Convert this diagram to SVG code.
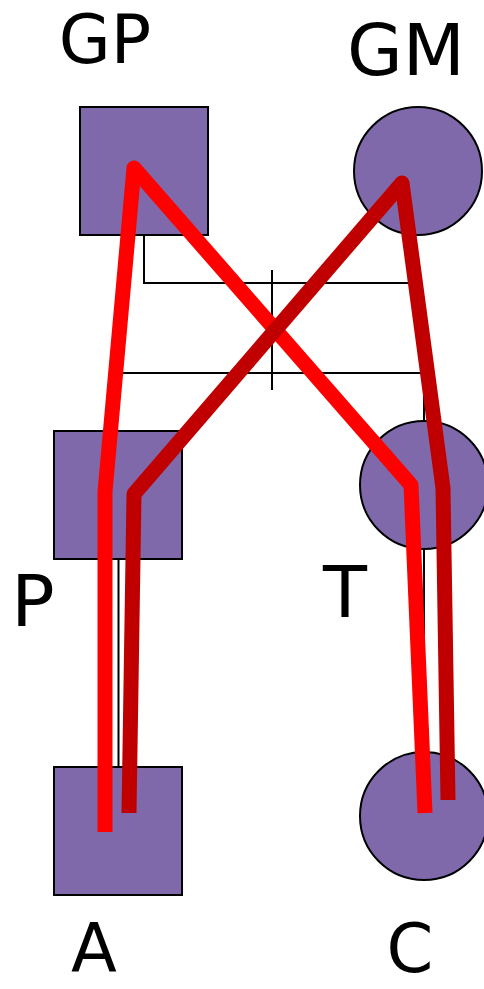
<svg xmlns="http://www.w3.org/2000/svg" width="484" height="989" viewBox="0 0 484 989">
<style>
.node{fill:#8069AB;stroke:#000;stroke-width:2}
.rel{fill:none;stroke:#000;stroke-width:2}
.lab{font-family:"DejaVu Sans",sans-serif;font-size:72px;fill:#000;text-anchor:middle}
.edge{font-size:67px}
.red{fill:none;stroke:#FF0000;stroke-width:15;stroke-linejoin:round;stroke-linecap:butt}
.dred{fill:none;stroke:#C00000;stroke-width:15;stroke-linejoin:round;stroke-linecap:butt}
</style>
<rect width="484" height="989" fill="#fff"/>
<g id="relations">
<polyline class="rel" points="144,236 144,283 412,283 412,234"/>
<line class="rel" x1="272" y1="270" x2="272" y2="390"/>
<polyline class="rel" points="117,431 117,373 424,373 424,421"/>
<line class="rel" x1="118.5" y1="559" x2="118.5" y2="767"/>
<line class="rel" x1="424" y1="549" x2="424" y2="752"/>
</g>
<g id="GP"><rect class="node" x="80" y="107" width="128" height="128"/><text class="lab edge" x="105" y="63">GP</text></g>
<g id="GM"><circle class="node" cx="418" cy="171" r="64"/><text class="lab" x="406" y="75">GM</text></g>
<g id="P"><rect class="node" x="54" y="431" width="128" height="128"/><text class="lab" x="33" y="626">P</text></g>
<g id="T"><circle class="node" cx="424" cy="485" r="64"/><text class="lab" x="345" y="617">T</text></g>
<g id="A"><rect class="node" x="54" y="767" width="128" height="128"/><text class="lab edge" x="94" y="972">A</text></g>
<g id="C"><circle class="node" cx="424" cy="816" r="64"/><text class="lab edge" x="410" y="972">C</text></g>
<g id="connectors">
<polyline class="red" points="105,832 105,492 134,168 411,485 425,813"/>
<polyline class="dred" points="129,813 134,494 402,183 443,488 448,800"/>
</g>
</svg>
